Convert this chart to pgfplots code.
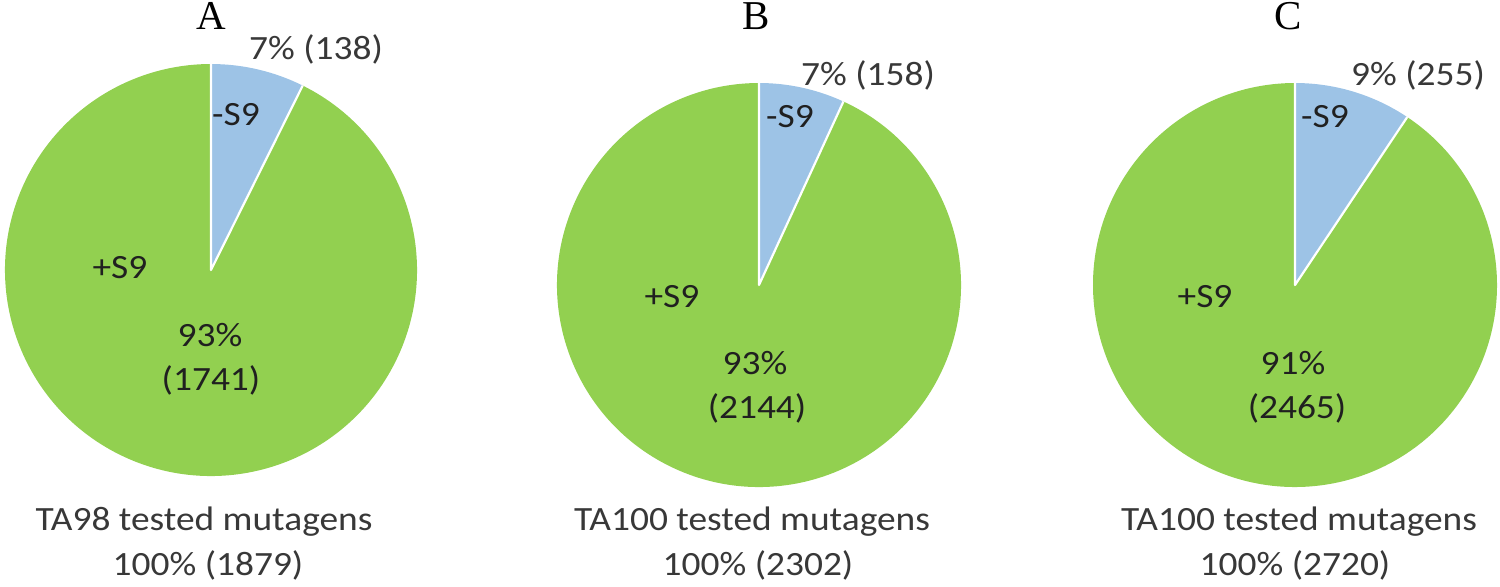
\documentclass[border=0pt]{standalone}
\usepackage{fontspec}
\setmainfont{Carlito}[FakeStretch=1.1]
\newfontfamily\panelfont{Liberation Serif}
\usepackage{pgfplots}
\usepackage{pgfplotstable}
\pgfplotsset{compat=1.18}
\definecolor{plusS9}{HTML}{92D050}
\definecolor{minusS9}{HTML}{9DC3E6}
\definecolor{lbl}{HTML}{383838}
\definecolor{inlbl}{HTML}{202020}

% counts per strain: -S9 and +S9
\pgfplotstableread{
panel minus plus
A 138 1741
B 158 2144
C 255 2465
}\piedata

\pgfplotsset{pie/.style={hide axis, clip=false, x=0.5pt, y=0.5pt,
  xmin=-210, xmax=210, ymin=-210, ymax=210, anchor=center}}

% read row #1, set \ang (end of the -S9 slice, clockwise from 12 o'clock)
\newcommand\getpie[1]{%
  \pgfplotstablegetelem{#1}{minus}\of\piedata \edef\vm{\pgfplotsretval}%
  \pgfplotstablegetelem{#1}{plus}\of\piedata \edef\vp{\pgfplotsretval}%
  \pgfmathsetmacro\frac{\vm/(\vm+\vp)}%
  \pgfmathsetmacro\ang{90-360*\frac}%
}
% slices in axis units, radius #1 (px)
\newcommand\slices[1]{%
  \fill[plusS9] (axis cs:0,0) -- (axis cs:{#1*cos(\ang)},{#1*sin(\ang)})
    arc[start angle=\ang, end angle=-270, radius={#1*0.5pt}] -- cycle;
  \fill[minusS9] (axis cs:0,0) -- (axis cs:0,#1)
    arc[start angle=90, end angle=\ang, radius={#1*0.5pt}] -- cycle;
  \draw[white, line width=1.1pt, line join=round]
    (axis cs:{#1*cos(\ang)},{#1*sin(\ang)}) -- (axis cs:0,0) -- (axis cs:0,#1);
}
\tikzset{panel/.style={font=\panelfont\fontsize{20.5}{22}\selectfont}}

\begin{document}
\begin{tikzpicture}[every node/.style={font=\fontsize{17}{20}\selectfont, inner sep=0pt}]
\useasboundingbox (0,0) rectangle (750pt,-293pt);

% ---- A ----
\getpie{0}
\begin{axis}[pie, at={(105.5pt,-135pt)}]
\slices{206}
\node[panel] at (axis cs:0,254) {A};
\node[lbl] at (axis cs:105,221) {7\% (138)};
\node[inlbl] at (axis cs:25,155) {-S9};
\node[inlbl] at (axis cs:-91,2) {+S9};
\node[inlbl] at (axis cs:-1,-65) {93\%};
\node[inlbl] at (axis cs:0,-110) {(1741)};
\node[lbl] at (axis cs:-7,-252) {TA98 tested mutagens};
\node[lbl] at (axis cs:-3,-295) {100\% (1879)};
\end{axis}

% ---- B ----
\getpie{1}
\begin{axis}[pie, at={(379.5pt,-142.5pt)}]
\slices{202}
\node[panel] at (axis cs:-3,269) {B};
\node[lbl] at (axis cs:109,210) {7\% (158)};
\node[inlbl] at (axis cs:31,168) {-S9};
\node[inlbl] at (axis cs:-87,-12) {+S9};
\node[inlbl] at (axis cs:-4,-78) {93\%};
\node[inlbl] at (axis cs:-2,-123) {(2144)};
\node[lbl] at (axis cs:-7,-237) {TA100 tested mutagens};
\node[lbl] at (axis cs:-1,-280) {100\% (2302)};
\end{axis}

% ---- C ----
\getpie{2}
\begin{axis}[pie, at={(647.5pt,-142.5pt)}]
\slices{202}
\node[panel] at (axis cs:-7,269) {C};
\node[lbl] at (axis cs:123,210) {9\% (255)};
\node[inlbl] at (axis cs:30,168) {-S9};
\node[inlbl] at (axis cs:-90,-12) {+S9};
\node[inlbl] at (axis cs:-2,-78) {91\%};
\node[inlbl] at (axis cs:2,-123) {(2465)};
\node[lbl] at (axis cs:4,-237) {TA100 tested mutagens};
\node[lbl] at (axis cs:0,-280) {100\% (2720)};
\end{axis}
\end{tikzpicture}
\end{document}
